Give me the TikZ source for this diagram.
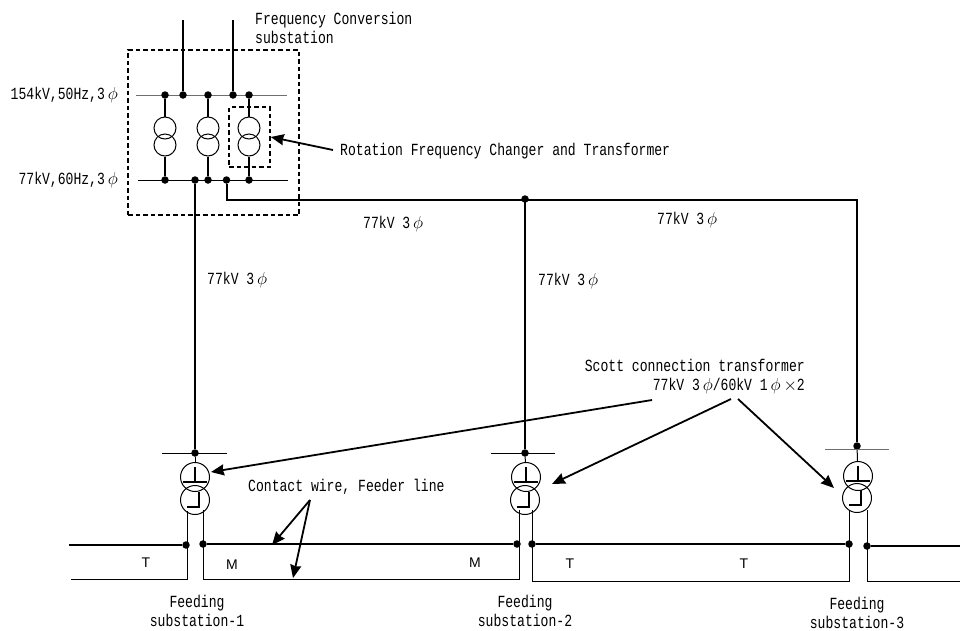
\documentclass[tikz,border=0pt]{standalone}
\usepackage{fontspec}
\setmonofont[FakeStretch=0.77]{Liberation Mono}
\setsansfont{Liberation Sans}
\usetikzlibrary{arrows.meta, positioning, calc}
\definecolor{busgray}{RGB}{110,110,110}

\begin{document}
\begin{tikzpicture}[x=1pt, y=-1pt,
  lab/.style={inner sep=0pt, align=center, font=\fontsize{17}{19}\selectfont\ttfamily},
  labw/.style={lab, anchor=west},
  labe/.style={lab, anchor=east},
  side/.style={inner sep=0pt, font=\fontsize{14}{16}\selectfont\sffamily},
  dot/.style={circle, fill=black, inner sep=0pt, minimum size=7.5pt},
  coil/.style={circle, draw, line width=1pt, inner sep=0pt, minimum size=22pt},
  scott/.style={circle, draw, line width=1pt, inner sep=0pt, minimum size=29pt},
  thin bus/.style={line width=1pt},
  heavy/.style={line width=2pt},
  wind/.style={line width=1.8pt},
  dashbox/.style={draw, line width=1.6pt, dash pattern=on 4.5pt off 3pt, inner sep=0pt},
  arr/.style={-{Stealth[length=13pt, width=11pt, inset=1pt]}, line width=1.8pt}
]
\useasboundingbox (0,0) rectangle (960,630);

% frequency conversion substation
\node[dashbox, minimum width=171pt, minimum height=165pt] (fcbox) at (213.5,132.5) {};
\node[dashbox, minimum width=41pt, minimum height=60pt] (rfcbox) at (249.5,137) {};
\coordinate (hvw) at (136,95.5);
\coordinate (hve) at (287,95.5);
\coordinate (lvw) at (138,180.5);
\coordinate (lve) at (288,180.5);
\draw[thin bus, busgray, line width=1.3pt] (hvw) -- (hve);
\draw[thin bus] (lvw) -- (lve);
\foreach \name/\px in {a/165, b/208, c/249} {
  \node[coil] (\name up) at (\px,128) {};
  \node[coil] (\name lo) at (\px,145) {};
  \node[dot] (\name hv) at (\px,95) {};
  \node[dot] (\name lv) at (\px,180) {};
  \draw[heavy] (\name hv) -- (\name up);
  \draw[heavy] (\name lo) -- (\name lv);
}
\coordinate (in1) at (183,20);
\coordinate (in2) at (233,20);
\node[dot] (in1hv) at (183,95) {};
\node[dot] (in2hv) at (233,95) {};
\draw[heavy] (in1) -- (in1hv);
\draw[heavy] (in2) -- (in2hv);
\node[dot] (out1) at (195,180) {};
\node[dot] (out2) at (226.5,180) {};

% 77kV lines and feeding substations
\node[dot] (tee) at (525,199) {};
\coordinate (bend1) at (226.5,200);
\coordinate (bend2) at (857,200);
\node[dot] (s1in) at (195,453) {};
\node[dot] (s2in) at (525,453) {};
\node[dot] (s3in) at (857,446) {};
\coordinate (teeline) at (525,200);
\draw[heavy] (out1) -- (s1in);
\draw[heavy] (out2) -- (bend1) -- (bend2) -- (s3in);
\draw[heavy] (teeline) -- (s2in);

\coordinate (s1w) at (162,453.5);
\coordinate (s1e) at (227,453.5);
\coordinate (s2w) at (491,453.5);
\coordinate (s2e) at (555,453.5);
\coordinate (s3w) at (825,449);
\coordinate (s3e) at (889,449);
\draw[thin bus] (s1w) -- (s1e);
\draw[thin bus] (s2w) -- (s2e);
\draw[thin bus, busgray] (s3w) -- (s3e);

\foreach \name/\ux/\uy/\lx/\ly in {s1/195/477/195/500, s2/526/477/525/500, s3/858/476/857/498} {
  \node[scott] (\name up) at (\ux,\uy) {};
  \node[scott] (\name lo) at (\lx,\ly) {};
  \draw[thin bus] (\name in) -- (\name up);
  \draw[wind] ($(\name up)+(-12,5)$) -- ($(\name up)+(12,5)$);
  \draw[wind] ($(\name up)+(0,-10)$) -- ($(\name up)+(0,5)$);
  \draw[wind] ($(\name lo)+(4,-8)$) -- ($(\name lo)+(4,7)$) -- ($(\name lo)+(-8,7)$);
}

% feeder and contact wires
\node[dot] (t1) at (186,545) {};
\node[dot] (m1) at (203,544) {};
\node[dot] (m2) at (517,544) {};
\node[dot] (t2) at (532,544) {};
\node[dot] (t3) at (849,544) {};
\node[dot] (f3) at (867,546) {};
\coordinate (cw1) at (69,545);
\coordinate (cw2) at (960,546);
\draw[heavy] (cw1) -- (t1);
\draw[heavy] (m1) -- (m2);
\draw[heavy] (t2) -- (t3);
\draw[heavy] (f3) -- (cw2);

\coordinate (a1) at (187.5,511);
\coordinate (a2) at (187.5,579.5);
\coordinate (a3) at (71,579.5);
\coordinate (b1) at (203.5,510);
\coordinate (b2) at (203.5,579.5);
\coordinate (b3) at (519.5,579.5);
\coordinate (b4) at (519.5,510);
\coordinate (c1) at (532.5,510);
\coordinate (c2) at (532.5,581.5);
\coordinate (c3) at (849.5,581.5);
\coordinate (c4) at (849.5,510);
\coordinate (d1) at (867.5,510);
\coordinate (d2) at (867.5,581.5);
\coordinate (d3) at (960,581.5);
\draw[thin bus] (a1) -- (a2) -- (a3);
\draw[thin bus] (b1) -- (b2) -- (b3) -- (b4);
\draw[thin bus] (c1) -- (c2) -- (c3) -- (c4);
\draw[thin bus] (d1) -- (d2) -- (d3);

% labels
\node[labw, align=left] (fclab) at (255,28) {Frequency Conversion\\substation};
\node[labe] (hvlab) at (118,95) {154kV,50Hz,3\,$\phi$};
\node[labe] (lvlab) at (118,180) {77kV,60Hz,3\,$\phi$};
\node[labw] (rfclab) at (340,151) {Rotation Frequency Changer and Transformer};
\node[labw] (l1) at (363,224) {77kV 3\,$\phi$};
\node[labw] (l2) at (657,220) {77kV 3\,$\phi$};
\node[labw] (l3) at (207,280) {77kV 3\,$\phi$};
\node[labw] (l4) at (538,281) {77kV 3\,$\phi$};
\node[labe, align=right] (scottlab) at (805,377) {Scott connection transformer\\77kV 3\,$\phi$/60kV 1\,$\phi\,\times$2};
\node[labw] (cwlab) at (248,487) {Contact wire, Feeder line};
\node[side] (tl1) at (146,563) {T};
\node[side] (ml1) at (232,565) {M};
\node[side] (ml2) at (475,563) {M};
\node[side] (tl2) at (570,564) {T};
\node[side] (tl3) at (744,564) {T};
\node[lab] (fs1) at (197,611) {Feeding\\substation-1};
\node[lab] (fs2) at (525,611) {Feeding\\substation-2};
\node[lab] (fs3) at (857,613) {Feeding\\substation-3};

% pointers
\coordinate (rfcfrom) at (333,150);
\coordinate (scfrom1) at (652,400);
\coordinate (scfrom2) at (731,399);
\coordinate (scfrom3) at (738,399);
\coordinate (cwfrom) at (310,500);
\coordinate (sc1) at (211,472);
\coordinate (sc2) at (552,484);
\coordinate (sc3) at (834,488);
\coordinate (cwto1) at (272,545);
\coordinate (cwto2) at (293,578);
\draw[arr] (rfcfrom) -- (rfcbox.east);
\draw[arr] (scfrom1) -- (sc1);
\draw[arr] (scfrom2) -- (sc2);
\draw[arr] (scfrom3) -- (sc3);
\draw[arr] (cwfrom) -- (cwto1);
\draw[arr] (cwfrom) -- (cwto2);
\end{tikzpicture}
\end{document}
